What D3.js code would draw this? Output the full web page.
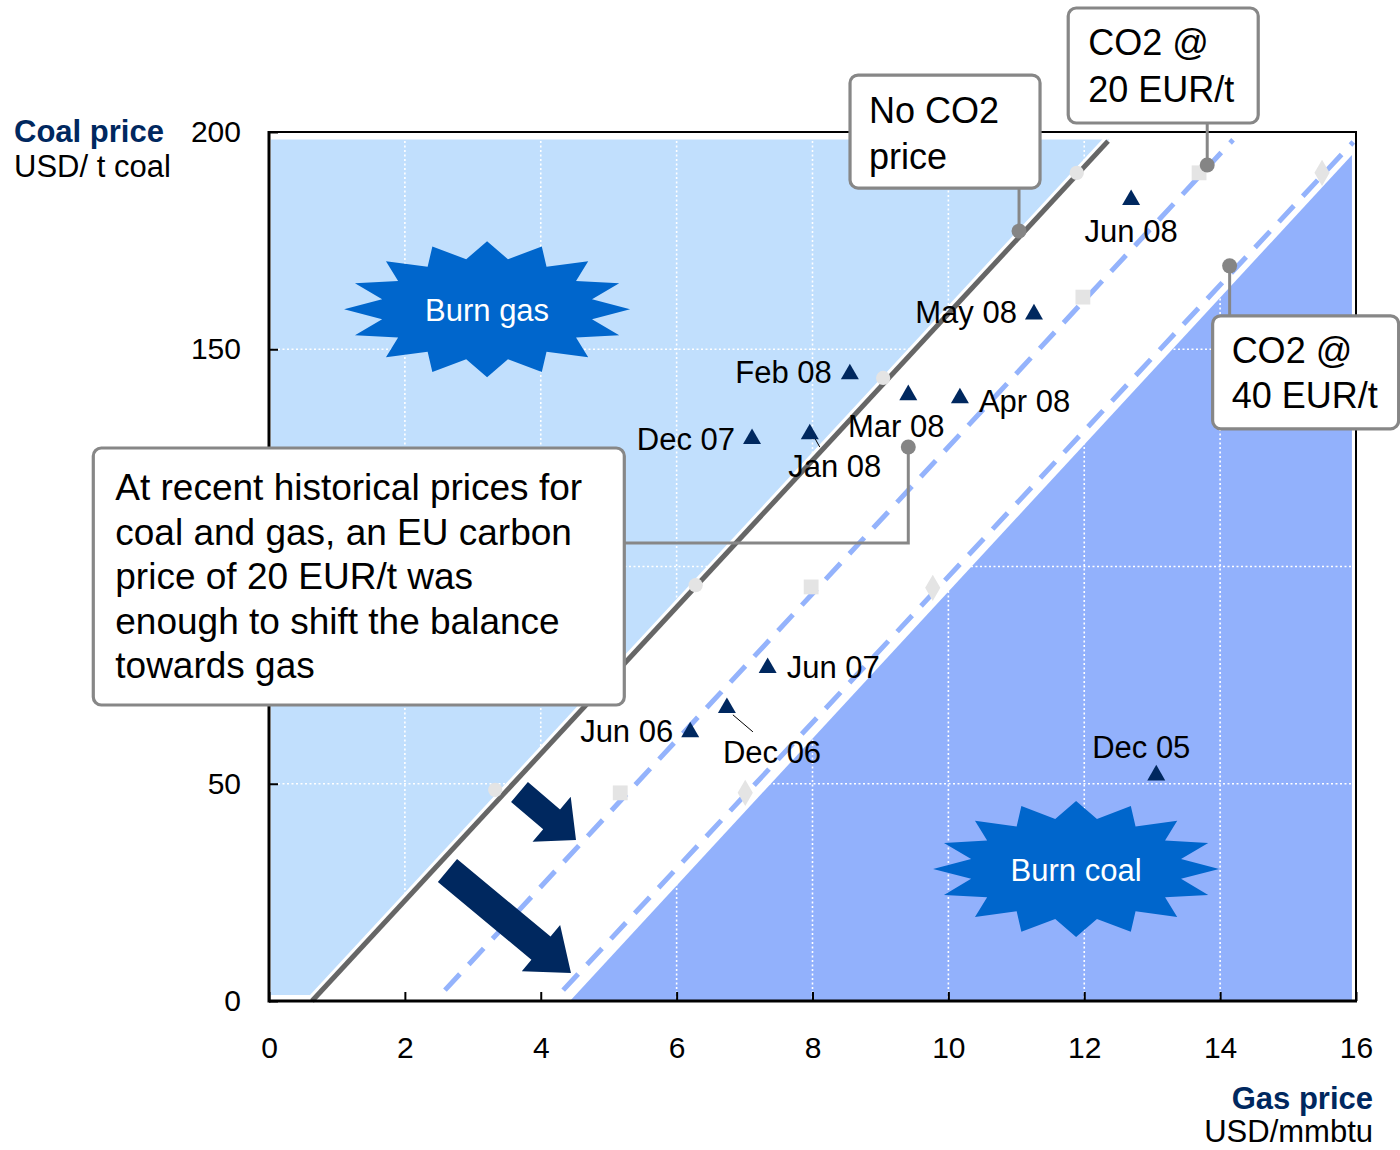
<!DOCTYPE html>
<html>
<head>
<meta charset="utf-8">
<script src="https://cdn.jsdelivr.net/npm/d3@7"></script>
<style>
  html, body { margin: 0; padding: 0; background: #fff; }
  svg { display: block; font-family: "Liberation Sans", Arial, Helvetica, sans-serif; }
</style>
</head>
<body>
<svg id="chart" width="1400" height="1150"></svg>
<script>
// Monthly gas / coal price observations
const months    = ["Dec 05", "Jun 06", "Dec 06", "Jun 07", "Dec 07", "Jan 08", "Feb 08", "Mar 08", "Apr 08", "May 08", "Jun 08"];
const gasPrice  = [13.06, 6.20, 6.74, 7.34, 7.11, 7.96, 8.55, 9.41, 10.17, 11.26, 12.69];
const coalPrice = [52.2, 62.1, 67.7, 76.9, 129.6, 130.7, 144.5, 139.7, 139.0, 158.3, 184.6];

// Fuel-switching lines (gas price, coal price at each end)
const noCo2Gas  = [0.633, 12.35];
const noCo2Coal = [0, 197.9];
const co2At20Gas  = [2.59, 14.19];
const co2At20Coal = [2.5, 198.2];
const co2At40Gas  = [4.33, 15.96];
const co2At40Coal = [2.5, 197.7];

// Points marked along each switching line
const noCo2MarkGas  = [3.33, 6.28, 9.04, 11.89];
const noCo2MarkCoal = [48.6, 95.7, 143.4, 190.6];
const co2At20MarkGas  = [5.17, 7.98, 11.98, 13.69];
const co2At20MarkCoal = [47.9, 95.3, 162.0, 190.6];
const co2At40MarkGas  = [7.01, 9.77, 15.50];
const co2At40MarkCoal = [47.9, 95.1, 190.6];

// Shaded regions (gas price, coal price vertices)
const burnGasRegionGas   = [0.03, 0.03, 12.37, 0.716];
const burnGasRegionCoal  = [1.4, 198.3, 198.3, 1.4];
const burnCoalRegionGas  = [4.43, 15.94, 15.94];
const burnCoalRegionCoal = [0, 194.7, 0];

// Axis ticks (the 100 label sits behind the annotation box)
const xTicks = [0, 2, 4, 6, 8, 10, 12, 14, 16];
const yTicks = [0, 50, 100, 150, 200];
const yTickLabels = ["0", "50", "", "150", "200"];

// Annotations
const burstText = ["Burn gas", "Burn coal"];
const burstGas  = [3.21, 11.88];
const burstCoal = [159.2, 30.4];

const arrowFromGas  = [3.687, 2.627];
const arrowFromCoal = [48.1, 30.03];
const arrowToGas    = [4.519, 4.445];
const arrowToCoal   = [37.05, 6.44];

const calloutText = [
  ["No CO2", "price"],
  ["CO2 @", "20 EUR/t"],
  ["CO2 @", "40 EUR/t"],
  ["At recent historical prices for", "coal and gas, an EU carbon", "price of 20 EUR/t was", "enough to shift the balance", "towards gas"]
];
const calloutGas  = [11.04, 13.81, 14.14, 9.41];
const calloutCoal = [177.2, 192.4, 169.2, 127.5];

// ---------- layout ----------
const svg = d3.select("#chart");
const x = d3.scaleLinear().domain([0, 16]).range([269, 1356]);
const y = d3.scaleLinear().domain([0, 200]).range([1001, 132]);

const NAVY = "#00285f";
const LIGHT = "#c1dffd";
const DARK = "#92b1fc";
const DASH = "#94b3fc";
const GREY_LINE = "#666666";
const BOX_STROKE = "#878787";
const MARK = "#e4e4e4";

// shaded regions
const pts = (gx, gy) => gx.map((g, i) => [x(g), y(gy[i])]);
svg.append("polygon")
  .attr("points", pts(burnGasRegionGas, burnGasRegionCoal).join(" "))
  .attr("fill", LIGHT);
svg.append("polygon")
  .attr("points", pts(burnCoalRegionGas, burnCoalRegionCoal).join(" "))
  .attr("fill", DARK);

// dotted white grid
const grid = svg.append("g").attr("stroke", "#fff").attr("stroke-width", 1.6).attr("stroke-dasharray", "2,2.5");
xTicks.slice(1, -1).forEach(t => {
  grid.append("line").attr("x1", x(t)).attr("x2", x(t)).attr("y1", y(200)).attr("y2", y(0));
});
yTicks.slice(1, -1).forEach(t => {
  grid.append("line").attr("x1", x(0)).attr("x2", x(16)).attr("y1", y(t)).attr("y2", y(t));
});

// switching lines
const seg = (gx, gy) => d3.line()(pts(gx, gy));
svg.append("path").attr("d", seg(noCo2Gas, noCo2Coal)).attr("stroke", "#fff").attr("stroke-width", 11).attr("fill", "none");
svg.append("path").attr("d", seg(noCo2Gas, noCo2Coal)).attr("stroke", GREY_LINE).attr("stroke-width", 5).attr("fill", "none");
svg.append("path").attr("d", seg(co2At20Gas, co2At20Coal)).attr("stroke", DASH).attr("stroke-width", 5)
  .attr("stroke-dasharray", "22,13").attr("fill", "none");
svg.append("path").attr("d", seg(co2At40Gas, co2At40Coal)).attr("stroke", DASH).attr("stroke-width", 5)
  .attr("stroke-dasharray", "22,13").attr("fill", "none");

// faint markers on the lines
const markG = svg.append("g").attr("fill", MARK);
noCo2MarkGas.forEach((g, i) => markG.append("path")
  .attr("d", d3.symbol(d3.symbolCircle, 160)()).attr("transform", `translate(${x(g)},${y(noCo2MarkCoal[i])})`));
co2At20MarkGas.forEach((g, i) => markG.append("path")
  .attr("d", d3.symbol(d3.symbolSquare, 220)()).attr("transform", `translate(${x(g)},${y(co2At20MarkCoal[i])})`));
co2At40MarkGas.forEach((g, i) => markG.append("path")
  .attr("d", d3.symbol(d3.symbolDiamond, 200)()).attr("transform", `translate(${x(g)},${y(co2At40MarkCoal[i])})`));

// axes
const xAxis = d3.axisBottom(x).tickValues(xTicks).tickSizeInner(-9).tickSizeOuter(0).tickPadding(57);
const yAxis = d3.axisLeft(y).tickValues(yTicks).tickFormat((d, i) => yTickLabels[i])
  .tickSizeInner(-9).tickSizeOuter(0).tickPadding(28);
const gx = svg.append("g").attr("transform", `translate(0,${y(0)})`).call(xAxis);
const gy = svg.append("g").attr("transform", `translate(${x(0)},0)`).call(yAxis);
[gx, gy].forEach(g => {
  g.select(".domain").remove();
  g.selectAll(".tick line").attr("stroke", "#000").attr("stroke-width", 2);
  g.selectAll(".tick text").attr("font-size", 30).attr("fill", "#000")
    .attr("font-family", "'Liberation Sans', Arial, sans-serif");
});
gx.selectAll(".tick text").attr("dy", "0");
gy.selectAll(".tick text").filter(function () { return this.textContent === ""; }).remove();

// plot frame
svg.append("rect").attr("x", x(0)).attr("y", y(200)).attr("width", x(16) - x(0)).attr("height", y(0) - y(200))
  .attr("fill", "none").attr("stroke", "#000").attr("stroke-width", 2);
svg.append("line").attr("x1", x(0)).attr("x2", x(0)).attr("y1", y(200) - 1).attr("y2", y(0) + 1.5)
  .attr("stroke", "#000").attr("stroke-width", 3);
svg.append("line").attr("x1", x(0)).attr("x2", x(16) + 1).attr("y1", y(0)).attr("y2", y(0))
  .attr("stroke", "#000").attr("stroke-width", 3);

// axis titles
svg.append("text").attr("x", 14).attr("y", 142).attr("font-size", 31).attr("font-weight", "bold")
  .attr("fill", NAVY).text("Coal price");
svg.append("text").attr("x", 14).attr("y", 177).attr("font-size", 31).attr("fill", "#000").text("USD/ t coal");
svg.append("text").attr("x", 1373).attr("y", 1109).attr("font-size", 31).attr("font-weight", "bold")
  .attr("text-anchor", "end").attr("fill", NAVY).text("Gas price");
svg.append("text").attr("x", 1373).attr("y", 1142).attr("font-size", 31)
  .attr("text-anchor", "end").attr("fill", "#000").text("USD/mmbtu");

// starburst shapes
function burst(cx, cy, rxO, ryO, rxI, ryI, n) {
  const p = [];
  for (let k = 0; k < 2 * n; k++) {
    const a = k * Math.PI / n;
    const rx = k % 2 ? rxI : rxO, ry = k % 2 ? ryI : ryO;
    p.push([cx + rx * Math.sin(a), cy - ry * Math.cos(a)]);
  }
  return p;
}
burstText.forEach((t, i) => {
  const cx = x(burstGas[i]), cy = y(burstCoal[i]);
  svg.append("polygon").attr("points", burst(cx, cy, 143, 68, 107, 51, 16).join(" ")).attr("fill", "#0066cc");
  svg.append("text").attr("x", cx).attr("y", cy + 12).attr("text-anchor", "middle")
    .attr("font-size", 31).attr("fill", "#fff").text(t);
});

// block arrows
const arrowShaft = [26, 30], arrowHeadW = [59, 60], arrowHeadL = [32, 39];
arrowFromGas.forEach((g, i) => {
  const x0 = x(g), y0 = y(arrowFromCoal[i]), x1 = x(arrowToGas[i]), y1 = y(arrowToCoal[i]);
  const L = Math.hypot(x1 - x0, y1 - y0), ux = (x1 - x0) / L, uy = (y1 - y0) / L, nx = -uy, ny = ux;
  const s = arrowShaft[i] / 2, h = arrowHeadW[i] / 2, bx = x1 - ux * arrowHeadL[i], by = y1 - uy * arrowHeadL[i];
  const poly = [
    [x0 + nx * s, y0 + ny * s], [bx + nx * s, by + ny * s], [bx + nx * h, by + ny * h], [x1, y1],
    [bx - nx * h, by - ny * h], [bx - nx * s, by - ny * s], [x0 - nx * s, y0 - ny * s]
  ];
  svg.append("polygon").attr("points", poly.join(" ")).attr("fill", NAVY);
});

// observations
const labelPlace = [
  { dx: -15, dy: -16, anchor: "middle" },  // Dec 05
  { dx: -17, dy: 11, anchor: "end" },      // Jun 06
  { dx: -4, dy: 56, anchor: "start", lead: [[6, 8], [26, 25]] },  // Dec 06
  { dx: 19, dy: 11, anchor: "start" },     // Jun 07
  { dx: -17, dy: 12, anchor: "end" },      // Dec 07
  { dx: 25, dy: 44, anchor: "middle", lead: [[5, 5], [10, 14]] }, // Jan 08
  { dx: -18, dy: 10, anchor: "end" },      // Feb 08
  { dx: -12, dy: 43, anchor: "middle" },   // Mar 08
  { dx: 19, dy: 15, anchor: "start" },     // Apr 08
  { dx: -17, dy: 10, anchor: "end" },      // May 08
  { dx: 0, dy: 43, anchor: "middle" }      // Jun 08
];
const obs = svg.append("g");
months.forEach((m, i) => {
  const px = x(gasPrice[i]), py = y(coalPrice[i]), lp = labelPlace[i];
  if (lp.lead) {
    obs.append("line").attr("x1", px + lp.lead[0][0]).attr("y1", py + lp.lead[0][1])
      .attr("x2", px + lp.lead[1][0]).attr("y2", py + lp.lead[1][1]).attr("stroke", "#000").attr("stroke-width", 1);
  }
  obs.append("path").attr("d", d3.symbol(d3.symbolTriangle, 140)())
    .attr("transform", `translate(${px},${py + 1})`).attr("fill", NAVY);
  obs.append("text").attr("x", px + lp.dx).attr("y", py + lp.dy).attr("text-anchor", lp.anchor)
    .attr("font-size", 31).attr("fill", "#000").text(m);
});

// callouts: box geometry relative to the anchor dot
const calloutBox = [
  { x: -169, y: -156, w: 190, h: 113, fs: 36, lh: 46, tx: 19, ty: 48, leader: "up" },
  { x: -139, y: -157, w: 190, h: 115, fs: 36, lh: 47, tx: 20, ty: 47, leader: "up" },
  { x: -17, y: 50, w: 186, h: 113, fs: 36, lh: 45, tx: 19, ty: 47, leader: "down" },
  { x: -815, y: 1, w: 531, h: 257, fs: 37, lh: 44.5, tx: 22, ty: 52, leader: "elbow", elbowY: 96 }
];
calloutText.forEach((lines, i) => {
  const dx = x(calloutGas[i]), dy = y(calloutCoal[i]), b = calloutBox[i];
  const bx = dx + b.x, by = dy + b.y;
  const lead = svg.append("g").attr("stroke", BOX_STROKE).attr("stroke-width", 3).attr("fill", "none");
  if (b.leader === "up") {
    lead.append("line").attr("x1", dx).attr("x2", dx).attr("y1", dy).attr("y2", by + b.h);
  } else if (b.leader === "down") {
    lead.append("line").attr("x1", dx).attr("x2", dx).attr("y1", dy).attr("y2", by);
  } else {
    lead.append("polyline").attr("points", [[dx, dy], [dx, dy + b.elbowY], [bx + b.w, dy + b.elbowY]].join(" "));
  }
  svg.append("circle").attr("cx", dx).attr("cy", dy).attr("r", 7.5).attr("fill", "#858585");
  svg.append("rect").attr("x", bx).attr("y", by).attr("width", b.w).attr("height", b.h)
    .attr("rx", 8).attr("fill", "#fff").attr("stroke", BOX_STROKE).attr("stroke-width", 3.2);
  const t = svg.append("text").attr("font-size", b.fs).attr("fill", "#000");
  lines.forEach((ln, j) => {
    t.append("tspan").attr("x", bx + b.tx).attr("y", by + b.ty + j * b.lh).text(ln);
  });
});
</script>
</body>
</html>
